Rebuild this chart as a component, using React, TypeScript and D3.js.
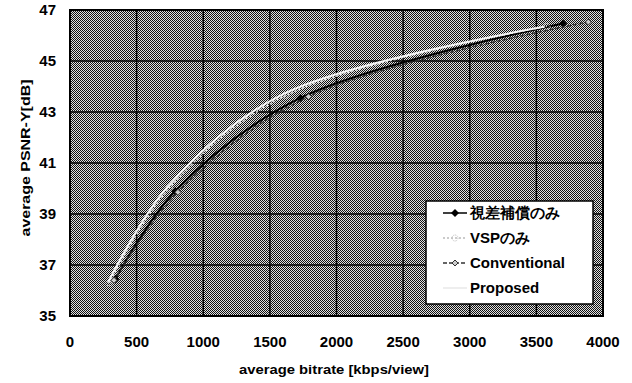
import React from 'react';
import * as d3 from 'd3';

// average bitrate [kbps/view] vs average PSNR-Y [dB]
const parallaxOnly = [[340, 36.45], [790, 39.9], [1730, 43.55], [3700, 46.47]];
const vspOnly = [[295, 36.3], [745, 40.02], [1620, 43.65], [3580, 46.36]];
const conventional = [[330, 36.4], [810, 39.85], [1790, 43.6], [3890, 46.53]];
const proposed = [[285, 36.32], [735, 40.08], [1600, 43.7], [3560, 46.34]];

const xTicks = [0, 500, 1000, 1500, 2000, 2500, 3000, 3500, 4000];
const yTicks = [35, 37, 39, 41, 43, 45, 47];

const series = [
  { name: '視差補償のみ', data: parallaxOnly, color: '#000', width: 2, dash: '', marker: 'diamond' },
  { name: 'VSPのみ', data: vspOnly, color: '#e6e6e6', width: 1.5, dash: '2,2', marker: 'circle' },
  { name: 'Conventional', data: conventional, color: '#333', width: 1.5, dash: '4,2', marker: 'small' },
  { name: 'Proposed', data: proposed, color: '#f4f4f4', width: 2, dash: '', marker: 'none' },
];

const W = 632, H = 383;
const left = 70, right = 603, top = 10, bottom = 316;

const Marker = ({ kind, x, y, color }: any) => {
  if (kind === 'diamond') return <path d={`M${x},${y - 4}L${x + 4},${y}L${x},${y + 4}L${x - 4},${y}Z`} fill={color} />;
  if (kind === 'small') return <path d={`M${x},${y - 3}L${x + 3},${y}L${x},${y + 3}L${x - 3},${y}Z`} fill="#ccc" stroke={color} strokeWidth={1} />;
  if (kind === 'circle') return <circle cx={x} cy={y} r={3} fill="none" stroke={color} strokeWidth={1} strokeDasharray="1,1" />;
  return null;
};

export default function App() {
  const x = d3.scaleLinear().domain([0, 4000]).range([left, right]);
  const y = d3.scaleLinear().domain([35, 47]).range([bottom, top]);
  const line = d3.line<number[]>().x(d => x(d[0])).y(d => y(d[1])).curve(d3.curveCatmullRom.alpha(0.5));
  const font = '"Liberation Sans", Arial, sans-serif';

  const lx = 426, ly = 201, lw = 167, lh = 103;

  return (
    <svg width={W} height={H} style={{ position: 'absolute', left: 0, top: 0, background: '#fff' }} fontFamily={font}>
      <defs>
        <pattern id="dither" width={2} height={2} patternUnits="userSpaceOnUse">
          <rect width={2} height={2} fill="#e0e0e0" />
          <rect width={1} height={1} fill="#111" />
          <rect x={1} y={1} width={1} height={1} fill="#111" />
        </pattern>
      </defs>
      <rect x={left} y={top} width={right - left} height={bottom - top} fill="url(#dither)" />
      {xTicks.map(t => (
        <line key={'gx' + t} x1={x(t)} x2={x(t)} y1={top} y2={bottom} stroke="#000" strokeWidth={1.5} />
      ))}
      {yTicks.map(t => (
        <line key={'gy' + t} x1={left} x2={right} y1={y(t)} y2={y(t)} stroke="#000" strokeWidth={1.5} />
      ))}
      <rect x={left} y={top} width={right - left} height={bottom - top} fill="none" stroke="#000" strokeWidth={2} />

      {series.map(s => (
        <g key={s.name}>
          <path d={line(s.data) || ''} fill="none" stroke={s.color} strokeWidth={s.width} strokeDasharray={s.dash} />
          {s.data.map((d, i) => <Marker key={i} kind={s.marker} x={x(d[0])} y={y(d[1])} color={s.color} />)}
        </g>
      ))}

      {xTicks.map(t => (
        <text key={'tx' + t} x={x(t)} y={347} textAnchor="middle" fontSize={15} fontWeight="bold">{t}</text>
      ))}
      {yTicks.map(t => (
        <text key={'ty' + t} x={56} y={y(t) + 5} textAnchor="end" fontSize={15} fontWeight="bold">{t}</text>
      ))}
      <text x={334} y={374} textAnchor="middle" fontSize={13} fontWeight="bold" textLength={190} lengthAdjust="spacingAndGlyphs">average bitrate [kbps/view]</text>
      <text transform={`translate(30,158) rotate(-90)`} textAnchor="middle" fontSize={13} fontWeight="bold" textLength={157} lengthAdjust="spacingAndGlyphs">average PSNR-Y[dB]</text>

      <rect x={lx} y={ly} width={lw} height={lh} fill="#fff" stroke="#000" strokeWidth={1.5} />
      {series.map((s, i) => {
        const cy = ly + 12 + i * 25;
        const c = s.marker === 'none' ? '#ddd' : s.color === '#e6e6e6' ? '#bbb' : s.color;
        return (
          <g key={'lg' + s.name}>
            <line x1={443} x2={467} y1={cy} y2={cy} stroke={c} strokeWidth={s.marker === 'none' ? 1 : 1.5} strokeDasharray={s.dash} />
            <Marker kind={s.marker} x={455} y={cy} color={c} />
            <text x={470} y={cy + 5} fontSize={15} fontWeight={600} fill="#000">{s.name}</text>
          </g>
        );
      })}
    </svg>
  );
}
